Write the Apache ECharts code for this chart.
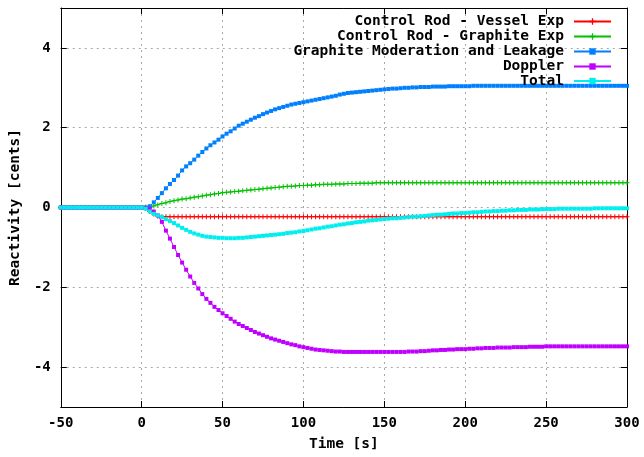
<!DOCTYPE html>
<html>
<head>
<meta charset="utf-8">
<script src="https://cdn.jsdelivr.net/npm/echarts@6/dist/echarts.min.js"></script>
<style>
html,body{margin:0;padding:0;background:#fff;}
#chart{width:644px;height:457px;}
</style>
</head>
<body>
<div id="chart"></div>
<script>
// Time [s]
var time = [
-50,-47.5,-45,-42.5,-40,-37.5,-35,-32.5,-30,-27.5,
-25,-22.5,-20,-17.5,-15,-12.5,-10,-7.5,-5,-2.5,
0,2.5,5,7.5,10,12.5,15,17.5,20,22.5,
25,27.5,30,32.5,35,37.5,40,42.5,45,47.5,
50,52.5,55,57.5,60,62.5,65,67.5,70,72.5,
75,77.5,80,82.5,85,87.5,90,92.5,95,97.5,
100,102.5,105,107.5,110,112.5,115,117.5,120,122.5,
125,127.5,130,132.5,135,137.5,140,142.5,145,147.5,
150,152.5,155,157.5,160,162.5,165,167.5,170,172.5,
175,177.5,180,182.5,185,187.5,190,192.5,195,197.5,
200,202.5,205,207.5,210,212.5,215,217.5,220,222.5,
225,227.5,230,232.5,235,237.5,240,242.5,245,247.5,
250,252.5,255,257.5,260,262.5,265,267.5,270,272.5,
275,277.5,280,282.5,285,287.5,290,292.5,295,297.5,
300
];
var vesselExp = [
0,0,0,0,0,0,0,0,0,0,
0,0,0,0,0,0,0,0,0,0,
0,-0.02,-0.10,-0.16,-0.22,-0.23,-0.23,-0.23,-0.23,-0.23,
-0.23,-0.23,-0.23,-0.23,-0.23,-0.23,-0.23,-0.23,-0.23,-0.23,
-0.23,-0.23,-0.23,-0.23,-0.23,-0.23,-0.23,-0.23,-0.23,-0.23,
-0.23,-0.23,-0.23,-0.23,-0.23,-0.23,-0.23,-0.23,-0.23,-0.23,
-0.23,-0.23,-0.23,-0.23,-0.23,-0.23,-0.23,-0.23,-0.23,-0.23,
-0.23,-0.23,-0.23,-0.23,-0.23,-0.23,-0.23,-0.23,-0.23,-0.23,
-0.23,-0.23,-0.23,-0.23,-0.23,-0.23,-0.23,-0.23,-0.23,-0.23,
-0.23,-0.23,-0.23,-0.23,-0.23,-0.23,-0.23,-0.23,-0.23,-0.23,
-0.23,-0.23,-0.23,-0.23,-0.23,-0.23,-0.23,-0.23,-0.23,-0.23,
-0.23,-0.23,-0.23,-0.23,-0.23,-0.23,-0.23,-0.23,-0.23,-0.23,
-0.23,-0.23,-0.23,-0.23,-0.23,-0.23,-0.23,-0.23,-0.23,-0.23,
-0.23,-0.23,-0.23,-0.23,-0.23,-0.23,-0.23,-0.23,-0.23,-0.23,
-0.23
];
var graphiteExp = [
0,0,0,0,0,0,0,0,0,0,
0,0,0,0,0,0,0,0,0,0,
0,0.01,0.02,0.04,0.07,0.10,0.12,0.15,0.17,0.19,
0.21,0.22,0.24,0.26,0.27,0.29,0.31,0.32,0.34,0.35,
0.37,0.38,0.39,0.40,0.41,0.42,0.43,0.44,0.45,0.46,
0.47,0.48,0.49,0.50,0.51,0.52,0.53,0.53,0.54,0.55,
0.55,0.56,0.56,0.57,0.57,0.58,0.58,0.58,0.59,0.59,
0.59,0.60,0.60,0.60,0.61,0.61,0.61,0.61,0.62,0.62,
0.62,0.62,0.62,0.62,0.62,0.62,0.62,0.62,0.62,0.62,
0.62,0.62,0.62,0.62,0.62,0.62,0.62,0.62,0.62,0.62,
0.62,0.62,0.62,0.62,0.62,0.62,0.62,0.62,0.62,0.62,
0.62,0.62,0.62,0.62,0.62,0.62,0.62,0.62,0.62,0.62,
0.62,0.62,0.62,0.62,0.62,0.62,0.62,0.62,0.62,0.62,
0.62,0.62,0.62,0.62,0.62,0.62,0.62,0.62,0.62,0.62,
0.62
];
var moderation = [
0,0,0,0,0,0,0,0,0,0,
0,0,0,0,0,0,0,0,0,0,
0,0.00,0.03,0.13,0.24,0.36,0.48,0.59,0.69,0.80,
0.93,1.03,1.11,1.20,1.30,1.39,1.48,1.56,1.63,1.70,
1.78,1.85,1.91,1.98,2.05,2.10,2.15,2.20,2.25,2.29,
2.34,2.38,2.42,2.46,2.49,2.52,2.55,2.58,2.60,2.62,
2.64,2.66,2.68,2.70,2.72,2.74,2.76,2.78,2.80,2.83,
2.85,2.87,2.88,2.89,2.90,2.91,2.92,2.93,2.94,2.95,
2.96,2.97,2.98,2.98,2.99,3.00,3.00,3.01,3.01,3.02,
3.02,3.02,3.03,3.03,3.03,3.03,3.04,3.04,3.04,3.04,
3.04,3.04,3.05,3.05,3.05,3.05,3.05,3.05,3.05,3.05,
3.05,3.05,3.05,3.05,3.05,3.05,3.05,3.05,3.05,3.05,
3.05,3.05,3.05,3.05,3.05,3.05,3.05,3.05,3.05,3.05,
3.05,3.05,3.05,3.05,3.05,3.05,3.05,3.05,3.05,3.05,
3.05
];
var doppler = [
0,0,0,0,0,0,0,0,0,0,
0,0,0,0,0,0,0,0,0,0,
0,-0.01,-0.04,-0.10,-0.20,-0.36,-0.58,-0.78,-0.99,-1.19,
-1.38,-1.56,-1.73,-1.89,-2.03,-2.17,-2.29,-2.39,-2.49,-2.57,
-2.65,-2.72,-2.79,-2.86,-2.92,-2.97,-3.02,-3.07,-3.12,-3.16,
-3.20,-3.24,-3.28,-3.31,-3.34,-3.37,-3.40,-3.43,-3.45,-3.48,
-3.50,-3.52,-3.54,-3.56,-3.57,-3.58,-3.59,-3.60,-3.61,-3.61,
-3.62,-3.62,-3.62,-3.62,-3.62,-3.62,-3.62,-3.62,-3.62,-3.62,
-3.62,-3.62,-3.62,-3.62,-3.62,-3.62,-3.61,-3.61,-3.61,-3.60,
-3.60,-3.59,-3.58,-3.58,-3.57,-3.57,-3.56,-3.56,-3.55,-3.55,
-3.55,-3.54,-3.54,-3.53,-3.53,-3.52,-3.52,-3.52,-3.51,-3.51,
-3.51,-3.51,-3.50,-3.50,-3.50,-3.50,-3.49,-3.49,-3.49,-3.49,
-3.48,-3.48,-3.48,-3.48,-3.48,-3.48,-3.48,-3.48,-3.48,-3.48,
-3.48,-3.48,-3.48,-3.48,-3.48,-3.48,-3.48,-3.48,-3.48,-3.48,
-3.48
];
var total = [
0,0,0,0,0,0,0,0,0,0,
0,0,0,0,0,0,0,0,0,0,
0,-0.03,-0.10,-0.16,-0.20,-0.24,-0.29,-0.34,-0.39,-0.45,
-0.51,-0.56,-0.61,-0.65,-0.68,-0.71,-0.73,-0.74,-0.75,-0.76,
-0.76,-0.77,-0.77,-0.77,-0.76,-0.76,-0.75,-0.74,-0.73,-0.72,
-0.71,-0.70,-0.69,-0.68,-0.67,-0.66,-0.64,-0.63,-0.62,-0.60,
-0.59,-0.57,-0.55,-0.53,-0.52,-0.50,-0.48,-0.47,-0.45,-0.43,
-0.42,-0.40,-0.39,-0.37,-0.36,-0.35,-0.33,-0.32,-0.31,-0.30,
-0.29,-0.28,-0.27,-0.27,-0.26,-0.25,-0.24,-0.23,-0.23,-0.22,
-0.21,-0.20,-0.19,-0.18,-0.18,-0.17,-0.16,-0.15,-0.15,-0.14,
-0.14,-0.13,-0.12,-0.12,-0.11,-0.10,-0.10,-0.09,-0.09,-0.08,
-0.08,-0.07,-0.07,-0.06,-0.06,-0.06,-0.05,-0.05,-0.05,-0.04,
-0.04,-0.04,-0.04,-0.03,-0.03,-0.03,-0.03,-0.03,-0.03,-0.03,
-0.03,-0.03,-0.02,-0.02,-0.02,-0.02,-0.02,-0.02,-0.02,-0.02,
-0.02
];
var seriesNames = ['Control Rod - Vessel Exp','Control Rod - Graphite Exp','Graphite Moderation and Leakage','Doppler','Total'];
var seriesValues = [vesselExp, graphiteExp, moderation, doppler, total];
var seriesColors = ['#ff0000','#00c000','#0080ff','#c000ff','#00eeee'];
var xTicks = {min:-50, max:300, interval:50};
var yTicks = {min:-5, max:5};

var FONT = 'DejaVu Sans Mono';
var plusPath = 'path://M4,0H6V4H10V6H6V10H4V6H0V4H4Z';
var symbols = [plusPath, plusPath, 'rect', 'rect', 'rect'];
var symbolSizes = [5, 5, 4, 4, 4];

var legendTops = [14, 29, 44, 59, 73.5];

var chart = echarts.init(document.getElementById('chart'), null, {renderer:'canvas'});
var axisLineStyle = {show:true, onZero:false, lineStyle:{color:'#000', width:1}};
var tickStyle = {show:true, inside:true, length:6, lineStyle:{color:'#000', width:1}};
var labelStyle = {color:'#000', fontFamily:FONT, fontSize:14, fontWeight:'bold'};
var gridLine = {show:true, lineStyle:{color:'#a8a8a8', width:1, type:[2,4]}};

var option = {
  animation:false,
  backgroundColor:'#fff',
  grid:{left:57, right:17, top:8, bottom:50},
  legend: seriesNames.map(function(n, i){
    return {
      data:[n], right:32, top:legendTops[i], padding:0, align:'right',
      itemWidth:37, itemHeight:8, itemGap:0, selectedMode:false,
      textStyle:{color:'#000', fontFamily:FONT, fontSize:14.5, fontWeight:'bold', padding:[0,5,0,0]}
    };
  }),
  xAxis:[
    {type:'value', position:'bottom', min:xTicks.min, max:xTicks.max, interval:xTicks.interval,
     axisLine:axisLineStyle, axisTick:tickStyle,
     axisLabel:Object.assign({margin:9}, labelStyle),
     splitLine:gridLine,
     name:'Time [s]', nameLocation:'middle', nameGap:30,
     nameTextStyle:{color:'#000', fontFamily:FONT, fontSize:14.5, fontWeight:'bold'}},
    {type:'value', position:'top', min:xTicks.min, max:xTicks.max, interval:xTicks.interval,
     axisLine:axisLineStyle, axisTick:tickStyle, axisLabel:{show:false}, splitLine:{show:false}}
  ],
  yAxis:[
    {type:'value', position:'left', min:yTicks.min, max:yTicks.max, splitNumber:5,
     axisLine:axisLineStyle, axisTick:tickStyle,
     axisLabel:Object.assign({margin:10, showMinLabel:false, showMaxLabel:false}, labelStyle),
     splitLine:gridLine,
     name:'Reactivity [cents]', nameLocation:'middle', nameGap:31,
     nameTextStyle:{color:'#000', fontFamily:FONT, fontSize:14.5, fontWeight:'bold'}},
    {type:'value', position:'right', min:yTicks.min, max:yTicks.max, splitNumber:5,
     axisLine:axisLineStyle, axisTick:tickStyle, axisLabel:{show:false}, splitLine:{show:false}}
  ],
  series: seriesNames.map(function(n, i){
    return {
      name:n, type:'line', xAxisIndex:0, yAxisIndex:0,
      data: time.map(function(t, k){ return [t, seriesValues[i][k]]; }),
      symbol:symbols[i], symbolSize:symbolSizes[i], showSymbol:true,
      lineStyle:{color:seriesColors[i], width:1},
      itemStyle:{color:seriesColors[i]},
      emphasis:{disabled:true}
    };
  })
};
chart.setOption(option);
</script>
</body>
</html>
